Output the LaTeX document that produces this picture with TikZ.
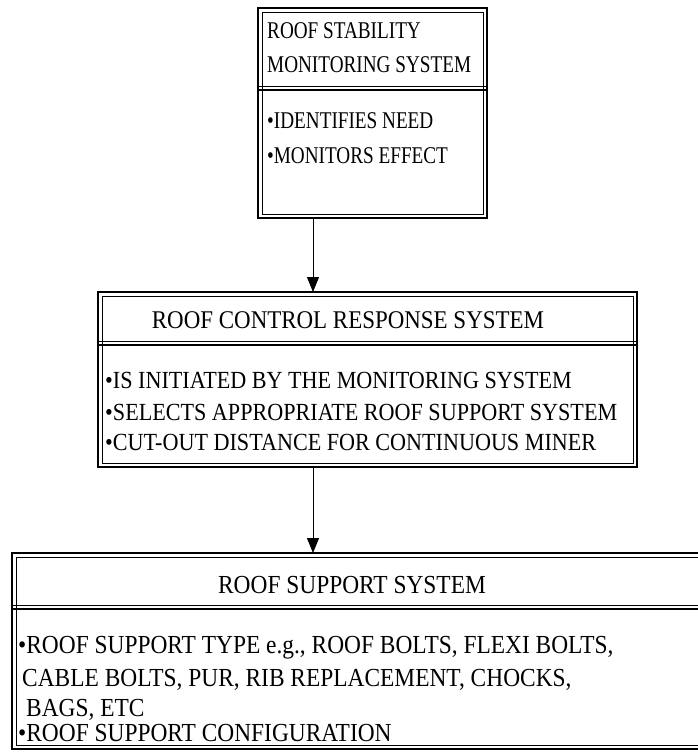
\documentclass[tikz,border=0pt]{standalone}
\usepackage{fontspec}
\setmainfont[FakeStretch=0.9]{Liberation Serif}
\newfontfamily\narrowfont[FakeStretch=0.8]{Liberation Serif}
\usetikzlibrary{arrows.meta}
\begin{document}
\begin{tikzpicture}[x=1pt,y=-1pt,
  txt/.style={font=\fontsize{25.5}{30}\selectfont, inner sep=0pt, anchor=base west},
  midtxt/.style={txt, font=\fontsize{24.6}{29}\selectfont},
  smalltxt/.style={txt, font=\narrowfont\fontsize{24}{28}\selectfont},
  bigtxt/.style={txt, font=\fontsize{26}{31}\selectfont},
  thickline/.style={line width=1.5pt},
  thinline/.style={line width=0.7pt},
  flow/.style={line width=1pt,-{Triangle[length=15pt,width=12pt]}}]
  \useasboundingbox (0,0) rectangle (698,753);
  % monitoring system
  \draw[thickline] (258,8) rectangle (487,218);
  \draw[thinline] (262,12) rectangle (483,214);
  \draw[thinline] (258,86) -- (487,86);
  \draw[thickline] (258,90) -- (487,90);
  \node[smalltxt] (mtitle1) at (267,38) {ROOF STABILITY};
  \node[smalltxt] (mtitle2) at (267,72) {MONITORING SYSTEM};
  \node[smalltxt] (mneed) at (267,128) {•IDENTIFIES NEED};
  \node[smalltxt] (meffect) at (267,163) {•MONITORS EFFECT};
  % control response system
  \draw[thickline] (98,292) rectangle (637,467);
  \draw[thinline] (102,296) rectangle (633,463);
  \draw[thinline] (98,341) -- (637,341);
  \draw[thickline] (98,345) -- (637,345);
  \node[txt,anchor=base] (rtitle) at (348,328) {ROOF CONTROL RESPONSE SYSTEM};
  \node[midtxt] (rinit) at (105,388) {•IS INITIATED BY THE MONITORING SYSTEM};
  \node[midtxt] (rsel) at (105,420) {•SELECTS APPROPRIATE ROOF SUPPORT SYSTEM};
  \node[midtxt] (rcut) at (105,450) {•CUT-OUT DISTANCE FOR CONTINUOUS MINER};
  % support system
  \draw[thickline] (698,553) -- (12,553) -- (12,749) -- (698,749);
  \draw[thinline] (698,557) -- (16,557) -- (16,745.5) -- (698,745.5);
  \draw[thinline] (12,605) -- (698,605);
  \draw[thickline] (12,609) -- (698,609);
  \node[bigtxt,anchor=base] (stitle) at (352,593) {ROOF SUPPORT SYSTEM};
  \node[bigtxt] (stype) at (18,653) {•ROOF SUPPORT TYPE e.g., ROOF BOLTS, FLEXI BOLTS,};
  \node[bigtxt] (stype2) at (22,686) {CABLE BOLTS, PUR, RIB REPLACEMENT, CHOCKS,};
  \node[bigtxt] (stype3) at (26,716) {BAGS, ETC};
  \node[bigtxt] (sconf) at (18,741) {•ROOF SUPPORT CONFIGURATION};
  % connectors
  \coordinate (mout) at (313,218);
  \coordinate (rin) at (313,292);
  \coordinate (rout) at (313,467);
  \coordinate (sin) at (313,553);
  \draw[flow] (mout) -- (rin);
  \draw[flow] (rout) -- (sin);
\end{tikzpicture}
\end{document}
